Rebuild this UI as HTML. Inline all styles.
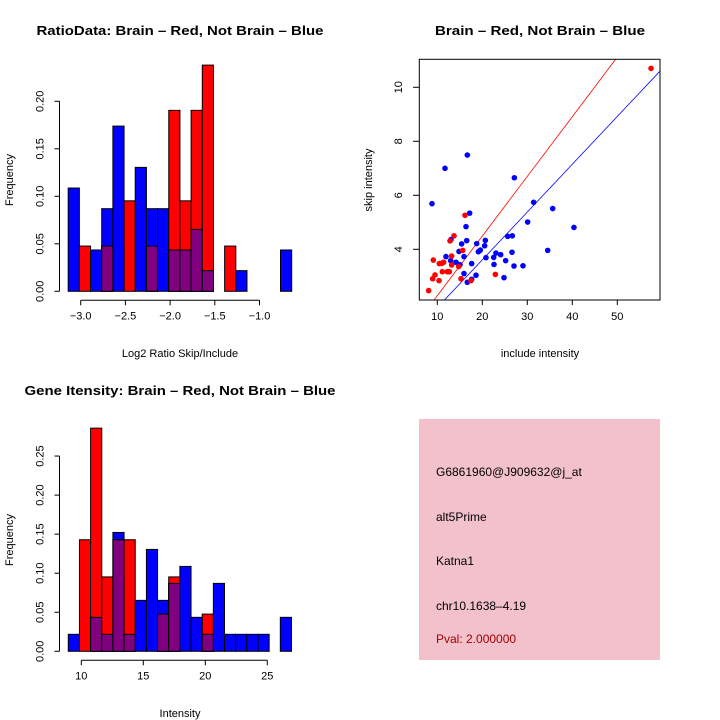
<!DOCTYPE html>
<html><head><meta charset="utf-8"><style>
body{margin:0;background:#fff}
svg{display:block;font-family:"Liberation Sans",sans-serif}
</style></head><body>
<svg id="s" width="720" height="720" xmlns="http://www.w3.org/2000/svg">
<text x="180" y="35" font-size="13" font-weight="bold" text-anchor="middle" textLength="287" lengthAdjust="spacingAndGlyphs">RatioData: Brain – Red, Not Brain – Blue</text>
<text x="540" y="35" font-size="13" font-weight="bold" text-anchor="middle" textLength="210" lengthAdjust="spacingAndGlyphs">Brain – Red, Not Brain – Blue</text>
<text x="180" y="395" font-size="13" font-weight="bold" text-anchor="middle" textLength="311" lengthAdjust="spacingAndGlyphs">Gene Itensity: Brain – Red, Not Brain – Blue</text>
<text x="180" y="357" font-size="11" text-anchor="middle">Log2 Ratio Skip/Include</text>
<text x="540" y="357" font-size="11" text-anchor="middle">include intensity</text>
<text x="180" y="717" font-size="11" text-anchor="middle">Intensity</text>
<text transform="translate(13,180) rotate(-90)" font-size="11" text-anchor="middle">Frequency</text>
<text transform="translate(13,540) rotate(-90)" font-size="11" text-anchor="middle">Frequency</text>
<text transform="translate(372,180) rotate(-90)" font-size="11" text-anchor="middle">skip intensity</text>
<g>
<rect x="419" y="419" width="241" height="241" fill="#f3c1cc"/>
<text x="436" y="476" font-size="12">G6861960@J909632@j_at</text>
<text x="436" y="521" font-size="12">alt5Prime</text>
<text x="436" y="565" font-size="12">Katna1</text>
<text x="436" y="610" font-size="12">chr10.1638–4.19</text>
<text x="436" y="643" font-size="12" fill="#a00000">Pval: 2.000000</text>
</g>
</svg>
<script>
// Ratio histogram (counts: blue /46, red /21)
const ratioBlue = [5,0,2,4,8,0,6,4,4,2,2,3,1,0,0,1,0,0,0,2];
const ratioRed  = [0,1,0,1,0,2,0,1,0,4,2,4,5,0,1,0,0,0,0,0];
const ratioTicksX = [-3.0,-2.5,-2.0,-1.5,-1.0];
const ratioTicksY = [0,0.05,0.10,0.15,0.20];
// Gene intensity histogram
const geneBlue = [1,0,2,1,7,1,3,6,3,4,5,2,1,4,1,1,1,1,0,2];
const geneRed  = [0,3,6,2,3,3,0,0,1,2,0,0,1,0,0,0,0,0,0,0];
const geneTicksX = [10,15,20,25];
const geneTicksY = [0,0.05,0.10,0.15,0.20,0.25];
// Scatter
const redX = [57.5,8.08,8.97,9.49,10.38,9.12,10.45,10.97,11.41,11.12,12.23,12.67,13.19,13.19,12.82,13.71,14.75,15.27,15.64,16.16,17.49,22.9];
const redY = [10.7,2.47,2.91,3.05,2.84,3.6,3.47,3.48,3.52,3.17,3.17,3.17,3.42,3.75,4.31,4.5,3.36,2.91,3.96,5.26,2.84,3.07];
const blueX = [8.82,11.71,16.67,27.12,31.41,35.64,30.08,40.37,34.53,17.19,16.38,13.04,15.41,16.53,18.75,20.67,20.53,19.56,19.12,14.82,15.93,11.93,12.97,14.16,15.04,17.64,15.93,16.67,17.64,18.6,20.82,22.53,23.04,24.08,22.6,25.19,26.6,25.63,26.67,27.04,29.04,24.82];
const blueY = [5.69,7.0,7.49,6.65,5.74,5.51,5.01,4.81,3.96,5.34,4.84,4.36,4.2,4.32,4.21,4.33,4.13,3.97,3.91,3.92,3.73,3.73,3.58,3.52,3.43,3.47,3.1,2.78,2.89,3.04,3.69,3.7,3.86,3.8,3.44,3.58,3.89,4.48,4.5,3.38,3.39,2.95];
const scatTicksX = [10,20,30,40,50];
const scatTicksY = [4,6,8,10];
const redFit = [0.07,0.221];
const blueFit = [0.07,0.177];

const svg=document.getElementById('s');
const NS='http://www.w3.org/2000/svg';
function mk(tag,attrs,parent){const e=document.createElementNS(NS,tag);for(const k in attrs)e.setAttribute(k,attrs[k]);(parent||svg).appendChild(e);return e;}

function hist(blue,red,x0,bw,xs,base,ys,ticksX,ticksY,yAxisX,name){
  const g=mk('g',{});
  
  
  for(let i=0;i<blue.length;i++){
    const b=blue[i]/46,r=red[i]/21,m=Math.min(b,r);
    const x=xs(x0+i*bw),w=xs(x0+(i+1)*bw)-x;
    [[b,'#0000ff','blue'],[r,'#ff0000','red'],[m,'#800080','overlap']].forEach(([v,c,n])=>{
      if(v<=0)return;
      const re=mk('rect',{x:x,y:ys(v),width:w,height:base-ys(v),fill:c,stroke:'#000','stroke-width':1},g);
      
      
    });
  }
  const xa=mk('g',{},g);
  
  
  mk('line',{x1:xs(ticksX[0]),x2:xs(ticksX[ticksX.length-1]),y1:base+9,y2:base+9,stroke:'#000'},xa);
  ticksX.forEach(t=>{mk('line',{x1:xs(t),x2:xs(t),y1:base+9,y2:base+14,stroke:'#000'},xa);
    const tx=mk('text',{x:xs(t),y:base+28,'font-size':11,'text-anchor':'middle'},xa);tx.textContent=t.toFixed(Number.isInteger(t)&&Math.abs(t)>=10?0:1).replace('-','−');
    });
  const ya=mk('g',{},g);
  
  
  mk('line',{x1:yAxisX,x2:yAxisX,y1:ys(ticksY[0]),y2:ys(ticksY[ticksY.length-1]),stroke:'#000'},ya);
  ticksY.forEach(t=>{mk('line',{x1:yAxisX,x2:yAxisX-5,y1:ys(t),y2:ys(t),stroke:'#000'},ya);
    const tx=mk('text',{transform:'translate('+(yAxisX-16)+','+ys(t)+') rotate(-90)','font-size':11,'text-anchor':'middle'},ya);tx.textContent=t.toFixed(2);
    });
}
hist(ratioBlue,ratioRed,-3.14,0.125,v=>80.7+(v+3)*89.4,291.3,v=>291.3-v*950,ratioTicksX,ratioTicksY,59.5,'ratio-histogram');
hist(geneBlue,geneRed,8.95,0.9,v=>81.3+(v-10)*12.4,651.3,v=>651.3-v*781,geneTicksX,geneTicksY,59.5,'gene-histogram');

const sx=v=>437.3+(v-10)*4.5, sy=v=>249.3-(v-4)*27;
const sg=mk('g',{});


const clip=mk('clipPath',{id:'cp'},sg);mk('rect',{x:419.3,y:59.3,width:240.7,height:240.7},clip);
const pts=mk('g',{'clip-path':'url(#cp)'},sg);
[[redFit,'#ff0000','red'],[blueFit,'#0000ff','blue']].forEach(([f,c,n])=>{
  const l=mk('line',{x1:sx(0),y1:sy(f[0]),x2:sx(70),y2:sy(f[0]+f[1]*70),stroke:c,'stroke-width':0.8},pts);
  });
blueX.forEach((x,i)=>{const c=mk('circle',{cx:sx(x),cy:sy(blueY[i]),r:2.8,fill:'#0000ff'},pts);
  });
redX.forEach((x,i)=>{const c=mk('circle',{cx:sx(x),cy:sy(redY[i]),r:2.8,fill:'#ff0000'},pts);
  });
const fr=mk('rect',{x:419.3,y:59.3,width:240.7,height:240.7,fill:'none',stroke:'#000'},sg);

scatTicksX.forEach(t=>{mk('line',{x1:sx(t),x2:sx(t),y1:300,y2:305,stroke:'#000'},sg);
  const tx=mk('text',{x:sx(t),y:320,'font-size':11,'text-anchor':'middle'},sg);tx.textContent=t;
  });
scatTicksY.forEach(t=>{mk('line',{x1:419.3,x2:413,y1:sy(t),y2:sy(t),stroke:'#000'},sg);
  const tx=mk('text',{transform:'translate(402,'+sy(t)+') rotate(-90)','font-size':11,'text-anchor':'middle'},sg);tx.textContent=t;
  });
</script>
</body></html>
